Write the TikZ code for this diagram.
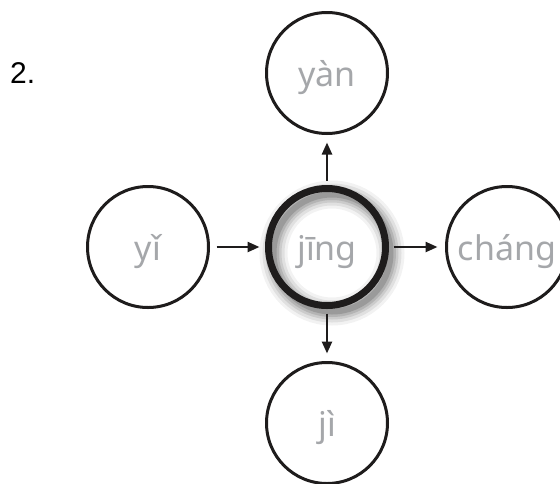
\documentclass[tikz,border=0pt]{standalone}
\usepackage{fontspec}
\setmainfont{Noto Sans}
\newfontfamily\numfont{Liberation Sans}
\usetikzlibrary{arrows.meta}
\definecolor{pinyin}{RGB}{165,167,170}
\definecolor{ink}{RGB}{30,28,28}
\begin{document}
\begin{tikzpicture}[x=1pt,y=-1pt,
  ring/.style={circle,draw=ink,line width=3pt,minimum size=121pt,inner sep=0pt,outer sep=0pt,
    text=pinyin,font=\fontsize{34}{34}\selectfont,text height=30pt,text depth=4pt},
  hub/.style={ring,line width=7pt,minimum size=117pt},
  arr/.style={draw=ink,-{Triangle[length=12pt,width=10pt]},line width=2.4pt,shorten <=8pt,shorten >=9pt}]
\useasboundingbox (0,0) rectangle (560,483);
\clip (0,0) rectangle (560,483);
\fill[white] (0,0) rectangle (560,483);
% shadow of the centre ring
\foreach \w/\o in {28/0.05,22/0.07,16/0.09,11/0.11,6/0.14}
  \draw[black,opacity=\o,line width=\w pt] (332,253) circle (58.5);
\node[ring] (top) at (327,73) {yàn};
\node[ring] (left) at (148,247) {yǐ};
\node[hub] (mid) at (327,247) {jīng};
\node[ring] (right) at (507,247) {cháng};
\node[ring] (bottom) at (327,423) {jì};
\node[anchor=base west,font=\numfont\fontsize{30}{30}\selectfont,inner sep=0pt] (num) at (10,83) {2.};
\draw[arr] (mid) -- (top);
\draw[arr] (left) -- (mid);
\draw[arr] (mid) -- (right);
\draw[arr] (mid) -- (bottom);
\end{tikzpicture}
\end{document}
